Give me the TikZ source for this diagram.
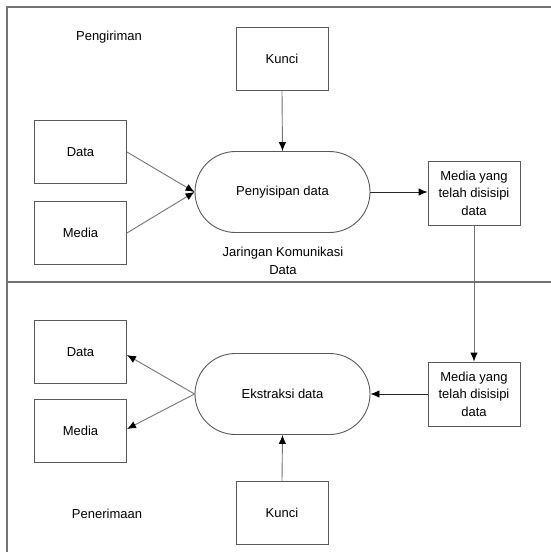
\documentclass[tikz,border=0pt]{standalone}
\usepackage{fontspec}
\setmainfont{Liberation Sans}
\usetikzlibrary{arrows.meta,shapes.misc}
\begin{document}
\begin{tikzpicture}[x=1pt,y=-1pt,
  box/.style={draw=black!65,line width=0.9pt,minimum width=92pt,minimum height=63pt,inner sep=0pt,font=\fontsize{13}{15}\selectfont},
  mbox/.style={box,minimum width=92pt,minimum height=64pt,align=center,font=\fontsize{13}{17.5}\selectfont},
  proc/.style={draw=black!65,line width=0.9pt,rounded rectangle,minimum width=175pt,minimum height=81pt,inner sep=0pt,font=\fontsize{13}{15}\selectfont},
  conn/.style={draw=black!55,line width=0.9pt,-{Latex[length=9pt,width=7.5pt,fill=black,color=black]}},
  darkconn/.style={conn,draw=black!85},
  frame/.style={draw=black!55,line width=1.2pt},
  lbl/.style={font=\fontsize{13}{15}\selectfont,align=center}]
\useasboundingbox (0,0) rectangle (551,552);
% frame
\coordinate (tl) at (7,7);
\coordinate (tr) at (551,7);
\coordinate (bl) at (7,552);
\coordinate (ml) at (7,282);
\coordinate (mr) at (551,282);
\draw[frame] (tr) -- (tl) -- (bl);
\draw[frame] (ml) -- (mr);
% upper
\node[lbl] (peng) at (109,37) {Pengiriman};
\node[box] (kunci1) at (282,59) {Kunci};
\node[box] (data1) at (80.5,152) {Data};
\node[box] (media1) at (80.5,233) {Media};
\node[proc] (sisip) at (282.5,192) {Penyisipan data};
\node[mbox] (mys1) at (474,193) {Media yang\\telah disisipi\\data};
\node[lbl,font=\fontsize{13}{18}\selectfont] (jar) at (283,261) {Jaringan Komunikasi\\Data};
\draw[conn] (kunci1.south) -- (sisip.north);
\draw[conn] (data1.east) -- (sisip.west);
\draw[conn] (media1.east) -- (sisip.west);
\draw[darkconn] (sisip.east) -- (sisip.east -| mys1.west);
% lower
\node[proc] (ekstr) at (282.5,394) {Ekstraksi data};
\node[mbox] (mys2) at (474,394) {Media yang\\telah disisipi\\data};
\node[box] (data2) at (80.5,352) {Data};
\node[box] (media2) at (80.5,431) {Media};
\node[box] (kunci2) at (282,513) {Kunci};
\node[lbl] (pener) at (107,514) {Penerimaan};
\draw[conn] (mys1.south) -- (mys2.north);
\draw[darkconn] (mys2.west) -- (ekstr.east);
\draw[conn] (ekstr.west) -- ([yshift=-3pt]data2.east);
\draw[conn] (ekstr.west) -- ([yshift=2pt]media2.east);
\draw[conn] (kunci2.north) -- (ekstr.south);
\end{tikzpicture}
\end{document}
